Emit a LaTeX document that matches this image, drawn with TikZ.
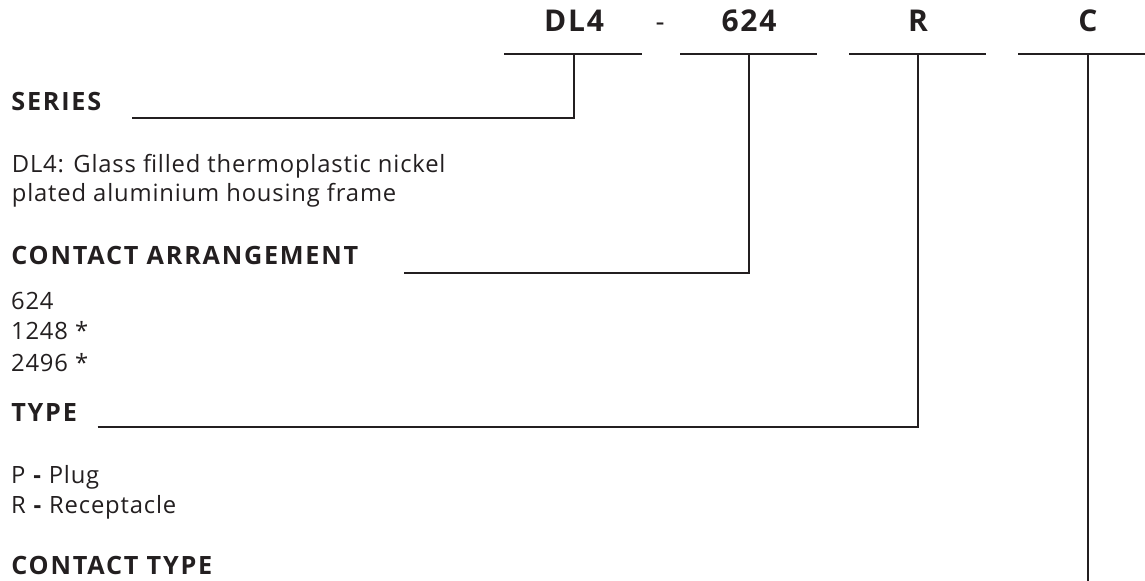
\documentclass[tikz,border=0pt]{standalone}
\usepackage{fontspec}
\setmainfont{Open Sans}
\newfontfamily\headfont{Open Sans}[LetterSpace=7]
\newfontfamily\codefont{Open Sans}[LetterSpace=6]
\newfontfamily\bodyfont{Open Sans}[LetterSpace=3.5]
\definecolor{ink}{HTML}{231F20}
\begin{document}
\begin{tikzpicture}[x=0.5pt,y=-0.5pt,
  ln/.style={draw=ink,line width=1pt},
  code/.style={inner sep=0pt,anchor=base,text=ink,font=\codefont\fontsize{15}{17}\selectfont\bfseries},
  head/.style={inner sep=0pt,anchor=base west,text=ink,font=\headfont\fontsize{12.6}{14}\selectfont\bfseries},
  body/.style={inner sep=0pt,anchor=base west,text=ink,font=\bodyfont\fontsize{11.9}{14}\selectfont}]
\useasboundingbox (0,0) rectangle (1145,581);
% header codes
\node[code] (cdl) at (574,32) {DL4};
\node[inner sep=0pt,anchor=base,text=ink,font=\fontsize{14}{16}\selectfont] (dash) at (660,32) {-};
\node[code] (c624) at (749,32) {624};
\node[code] (cr) at (918,32) {R};
\node[code] (cc) at (1088,32) {C};
% header lines
\coordinate (dlA) at (504,54); \coordinate (dlB) at (642,54); \coordinate (dlT) at (574,54);
\coordinate (caA) at (680,54); \coordinate (caB) at (817,54); \coordinate (caT) at (749,54);
\coordinate (rA) at (849,54);  \coordinate (rB) at (986,54);  \coordinate (rT) at (918,54);
\coordinate (cA) at (1018,54); \coordinate (cB) at (1145,54); \coordinate (cT) at (1088,54);
\draw[ln] (dlA) -- (dlB);
\draw[ln] (caA) -- (caB);
\draw[ln] (rA) -- (rB);
\draw[ln] (cA) -- (cB);
% headings and options
\node[head] (series) at (11,110.7) {SERIES};
\node[body] (s1) at (11.5,172.5) {DL4: Glass filled thermoplastic nickel};
\node[body] (s2) at (11.5,201.5) {plated aluminium housing frame};
\node[head] (arr) at (11,265) {CONTACT ARRANGEMENT};
\node[body] (a1) at (10.7,309.3) {624};
\node[body] (a2) at (10.7,340) {1248 *};
\node[body] (a3) at (10.7,371.7) {2496 *};
\node[head] (type) at (11,421.5) {TYPE};
\node[body] (t1) at (10.7,483.3) {P \textbf{-} Plug};
\node[body] (t2) at (10.7,513.3) {R \textbf{-} Receptacle};
\node[head] (ctype) at (11,575) {CONTACT TYPE};
% connectors
\coordinate (sL) at (132,118);
\coordinate (aL) at (404,273);
\coordinate (tL) at (97.6,427);
\coordinate (cBot) at (1088,581);
\draw[ln] (sL) -| (dlT);
\draw[ln] (aL) -| (caT);
\draw[ln] (tL) -| (rT);
\draw[ln] (cT) -- (cBot);
\end{tikzpicture}
\end{document}
